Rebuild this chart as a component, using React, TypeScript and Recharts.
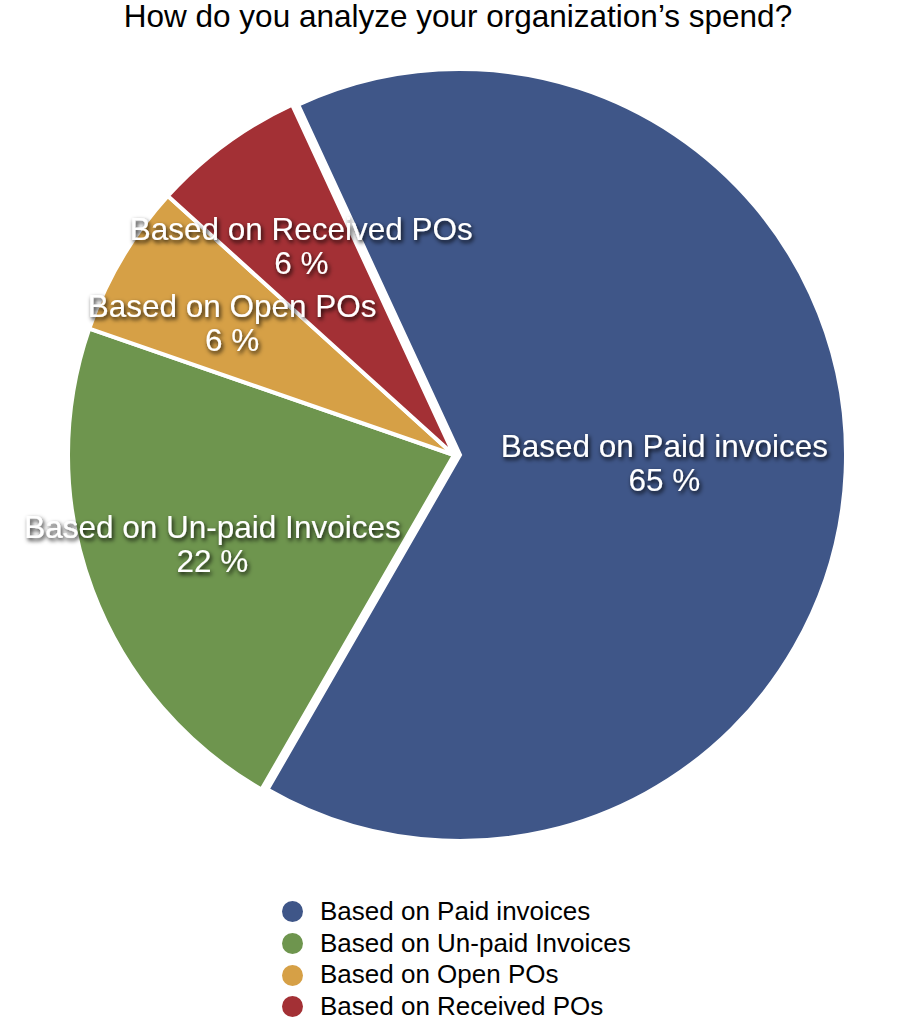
import { PieChart, Pie, Cell, Legend } from "recharts";

const TITLE = "How do you analyze your organization’s spend?";

const categories = [
  "Based on Paid invoices",
  "Based on Un-paid Invoices",
  "Based on Open POs",
  "Based on Received POs",
];
const shares = [65.2, 22, 6.4, 6.4];

const COLORS = ["#3f5688", "#6e954e", "#d6a046", "#a33035"];

const FONT = '"Liberation Sans", Arial, Helvetica, sans-serif';
const RAD = Math.PI / 180;

// the paid-invoices slice is pulled out a little to the right
const EXPLODED = 0;
const LABEL_RATIO = [0.53, 0.668, 0.668, 0.668];

const data = categories.map((name, i) => ({ name, value: shares[i] }));

function makeLabel(showIndex: (i: number) => boolean) {
  return (props: any) => {
    const { cx, cy, midAngle, outerRadius, index, value } = props;
    if (!showIndex(index)) return null;
    const r = outerRadius * LABEL_RATIO[index];
    const x = cx + r * Math.cos(-midAngle * RAD);
    const y = cy + r * Math.sin(-midAngle * RAD);
    return (
      <text
        x={x}
        y={y}
        textAnchor="middle"
        fill="#fff"
        fontSize={31.5}
        fontFamily={FONT}
        filter="url(#labelShadow)"
      >
        <tspan x={x} y={y - 7}>{props.name}</tspan>
        <tspan x={x} y={y + 27}>{`${Math.round(value)} %`}</tspan>
      </text>
    );
  };
}

function LegendList() {
  return (
    <div style={{ fontFamily: FONT, fontSize: 26, color: "#000" }}>
      {categories.map((name, i) => (
        <div key={name} style={{ display: "flex", alignItems: "center", height: 31.7, lineHeight: "31.7px" }}>
          <span
            style={{
              display: "inline-block",
              width: 21,
              height: 21,
              borderRadius: "50%",
              background: COLORS[i],
              marginRight: 17,
            }}
          />
          <span>{name}</span>
        </div>
      ))}
    </div>
  );
}

export default function App() {
  return (
    <div style={{ position: "absolute", left: 0, top: 0, width: 916, height: 1024, background: "#fff" }}>
      <svg width={0} height={0} style={{ position: "absolute" }}>
        <defs>
          <filter id="labelShadow" x="-20%" y="-40%" width="140%" height="180%">
            <feDropShadow dx={1.5} dy={2.5} stdDeviation={2} floodColor="#000" floodOpacity={0.9} />
          </filter>
        </defs>
      </svg>
      <div
        style={{
          position: "absolute",
          top: 1,
          left: 0,
          width: 916,
          textAlign: "center",
          fontFamily: FONT,
          fontSize: 31.5,
          lineHeight: "31px",
          color: "#000",
        }}
      >
        {TITLE}
      </div>
      <PieChart width={916} height={1024} margin={{ top: 0, right: 0, bottom: 0, left: 0 }}>
        <Pie
          data={data}
          dataKey="value"
          nameKey="name"
          cx={460}
          cy={455}
          outerRadius={386}
          startAngle={114.8}
          endAngle={-245.2}
          isAnimationActive={false}
          legendType="none"
          labelLine={false}
          label={makeLabel((i) => i === EXPLODED)}
        >
          {data.map((d, i) => (
            <Cell
              key={d.name}
              fill={i === EXPLODED ? COLORS[i] : "transparent"}
              stroke={i === EXPLODED ? "#fff" : "none"}
              strokeWidth={4}
            />
          ))}
        </Pie>
        <Pie
          data={data}
          dataKey="value"
          nameKey="name"
          cx={454}
          cy={455}
          outerRadius={386}
          startAngle={114.8}
          endAngle={-245.2}
          isAnimationActive={false}
          labelLine={false}
          label={makeLabel((i) => i !== EXPLODED)}
        >
          {data.map((d, i) => (
            <Cell
              key={d.name}
              fill={i === EXPLODED ? "transparent" : COLORS[i]}
              stroke={i === EXPLODED ? "none" : "#fff"}
              strokeWidth={4}
            />
          ))}
        </Pie>
        <Legend
          verticalAlign="bottom"
          layout="vertical"
          wrapperStyle={{ position: "absolute", left: 282, top: 896, width: 420, bottom: "auto" }}
          content={() => <LegendList />}
        />
      </PieChart>
    </div>
  );
}
